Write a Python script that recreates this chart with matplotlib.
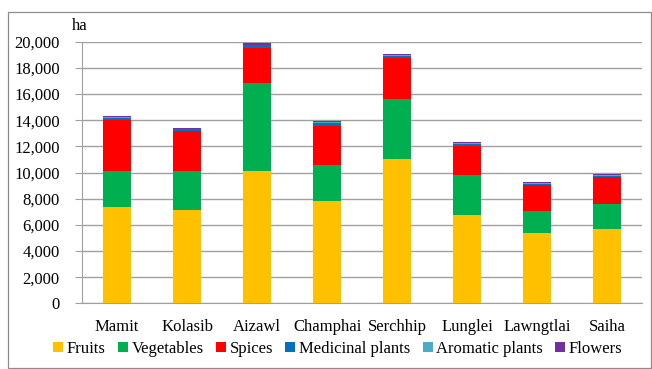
import matplotlib
matplotlib.use("Agg")
import matplotlib.pyplot as plt
from matplotlib.patches import Rectangle
from matplotlib.ticker import FuncFormatter
import numpy as np

plt.rcParams['font.family'] = ['Liberation Serif', 'DejaVu Serif']

districts = ["Mamit", "Kolasib", "Aizawl", "Champhai", "Serchhip", "Lunglei", "Lawngtlai", "Saiha"]
fruits = [7360, 7160, 10140, 7800, 11060, 6750, 5360, 5660]
vegetables = [2750, 2940, 6680, 2750, 4540, 3060, 1670, 1930]
spices = [3900, 3070, 2720, 3000, 3150, 2220, 2010, 2060]
medicinal = [160, 120, 180, 230, 150, 160, 110, 110]
aromatic = [60, 40, 60, 70, 50, 50, 40, 40]
flowers = [110, 60, 100, 110, 80, 90, 80, 80]

series = [
    ("Fruits", fruits, "#FFC000"),
    ("Vegetables", vegetables, "#00B050"),
    ("Spices", spices, "#FF0000"),
    ("Medicinal plants", medicinal, "#0070C0"),
    ("Aromatic plants", aromatic, "#4BACC6"),
    ("Flowers", flowers, "#7030A0"),
]

fig = plt.figure(figsize=(6.52, 3.69), dpi=100)
# outer chart frame
fig.patches.append(Rectangle((8 / 652, 1 / 369), 643 / 652, 356 / 369,
                             transform=fig.transFigure, fill=False,
                             edgecolor="#8C8C8C", linewidth=0.9))
ax = fig.add_axes([0.1258, 0.178, 0.859, 0.709])

x = np.arange(len(districts))
bottom = np.zeros(len(districts))
for name, vals, color in series:
    ax.bar(x, vals, width=0.4, bottom=bottom, color=color, label=name, zorder=3)
    bottom += np.array(vals)

ax.set_ylim(0, 20000)
ax.set_xlim(-0.5, len(districts) - 0.5)
ax.set_yticks(np.arange(0, 20001, 2000))
ax.yaxis.set_major_formatter(FuncFormatter(lambda v, p: f"{int(v):,}"))
ax.grid(axis="y", color="#A0A0A0", linewidth=1.0, zorder=0)
ax.set_xticks(x)
ax.set_xticklabels(districts, fontsize=12)
ax.tick_params(axis="y", labelsize=12, length=5, color="#A0A0A0", pad=11)
ax.tick_params(axis="x", length=0, pad=11)
for s in ["top", "right"]:
    ax.spines[s].set_visible(False)
ax.spines["left"].set_color("#A0A0A0")
ax.spines["bottom"].set_color("#A0A0A0")

fig.text(72 / 652, 1 - 26 / 369, "ha", fontsize=12, va="center", ha="left")

fig.legend(loc="center", bbox_to_anchor=(0.518, 1 - 349 / 369), ncol=6,
           frameon=False, fontsize=12, handlelength=0.6, handleheight=0.6,
           handletextpad=0.2, columnspacing=0.75, borderaxespad=0)

fig.savefig("out.png", dpi=100)
